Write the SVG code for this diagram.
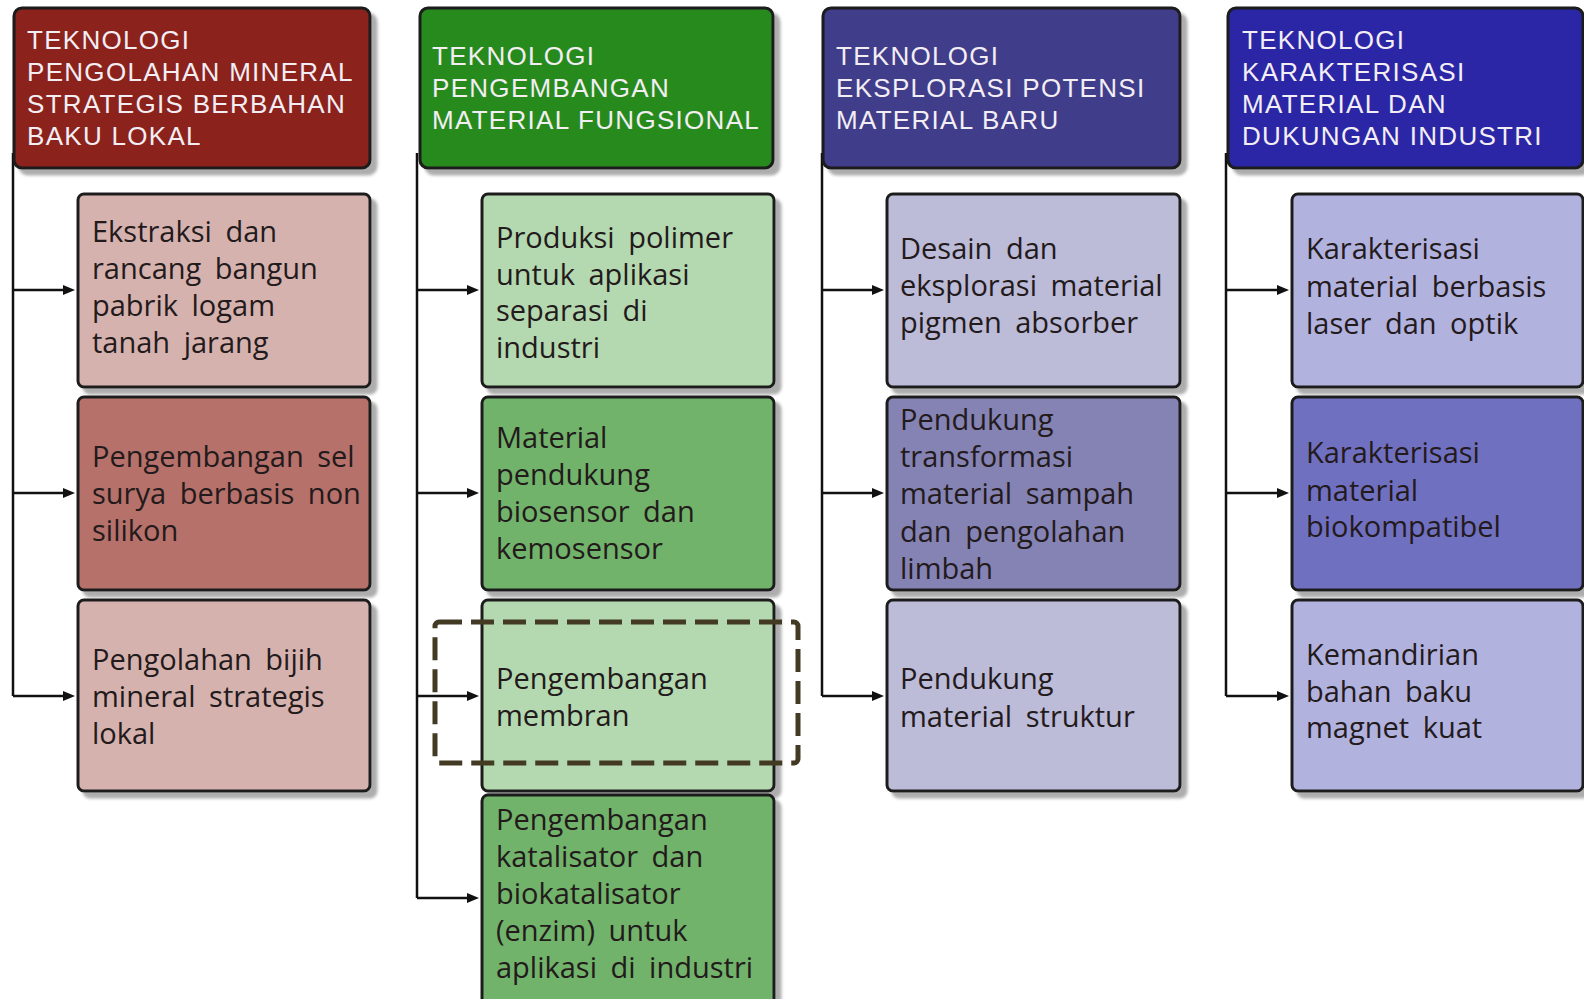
<svg xmlns="http://www.w3.org/2000/svg" width="1584" height="999" viewBox="0 0 1584 999">
<defs>
<filter id="sh" x="-5%" y="-5%" width="115%" height="115%">
<feDropShadow dx="6" dy="6" stdDeviation="1.5" flood-color="#8a8a8a" flood-opacity="0.7"/>
</filter>
<marker id="ah" markerWidth="12" markerHeight="10" refX="4" refY="5" orient="auto" markerUnits="userSpaceOnUse">
<path d="M0,0 L12,5 L0,10 z" fill="#111"/>
</marker>
<style>
.hd{stroke:#1a1a1a;stroke-width:3;filter:url(#sh)}
.bx{stroke:#1e1e1e;stroke-width:3;filter:url(#sh)}
.h{font-family:"Liberation Sans",Arial,sans-serif;font-size:26px;letter-spacing:1.3px;fill:#f3eef4}
.t{font-family:"Open Sans","Liberation Sans",sans-serif;font-size:29px;word-spacing:6px;fill:#231a1c}
.c{fill:none;stroke:#111;stroke-width:2.5}
.ar{fill:none;stroke:#111;stroke-width:2.5;marker-end:url(#ah)}
.r1{fill:#8b231d}.r2{fill:#d6b2ae}.r3{fill:#b5716a}
.g1{fill:#278b1d}.g2{fill:#b4d8af}.g3{fill:#71b36a}
.p1{fill:#403e8a}.p2{fill:#bcbbd8}.p3{fill:#8483b4}
.b1{fill:#2a28a5}.b2{fill:#b2b2df}.b3{fill:#6f6fc1}
</style>
</defs>
<rect width="1584" height="999" fill="#ffffff"/>

<g id="connectors">
<path class="c" d="M13,153 V696"/>
<path class="ar" d="M13,290 H67"/>
<path class="ar" d="M13,493 H67"/>
<path class="ar" d="M13,696 H67"/>
<path class="c" d="M417,153 V898"/>
<path class="ar" d="M417,290 H471"/>
<path class="ar" d="M417,493 H471"/>
<path class="ar" d="M417,696 H471"/>
<path class="ar" d="M417,898 H471"/>
<path class="c" d="M822,153 V696"/>
<path class="ar" d="M822,290 H876"/>
<path class="ar" d="M822,493 H876"/>
<path class="ar" d="M822,696 H876"/>
<path class="c" d="M1226,153 V696"/>
<path class="ar" d="M1226,290 H1281"/>
<path class="ar" d="M1226,493 H1281"/>
<path class="ar" d="M1226,696 H1281"/>
</g>

<g id="h1">
<rect class="hd r1" x="14" y="8" width="356" height="160" rx="8"/>
<text class="h"><tspan x="27" y="49">TEKNOLOGI</tspan><tspan x="27" y="81">PENGOLAHAN MINERAL</tspan><tspan x="27" y="113">STRATEGIS BERBAHAN</tspan><tspan x="27" y="145">BAKU LOKAL</tspan></text>
</g>
<g id="n1a">
<rect class="bx r2" x="78" y="194" width="292" height="193" rx="6"/>
<text class="t"><tspan x="92" y="242">Ekstraksi dan</tspan><tspan x="92" y="279">rancang bangun</tspan><tspan x="92" y="316">pabrik logam</tspan><tspan x="92" y="353">tanah jarang</tspan></text>
</g>
<g id="n1b">
<rect class="bx r3" x="78" y="397" width="292" height="193" rx="6"/>
<text class="t"><tspan x="92" y="467">Pengembangan sel</tspan><tspan x="92" y="504">surya berbasis non</tspan><tspan x="92" y="541">silikon</tspan></text>
</g>
<g id="n1c">
<rect class="bx r2" x="78" y="600" width="292" height="191" rx="6"/>
<text class="t"><tspan x="92" y="670">Pengolahan bijih</tspan><tspan x="92" y="707">mineral strategis</tspan><tspan x="92" y="744">lokal</tspan></text>
</g>

<g id="h2">
<rect class="hd g1" x="420" y="8" width="353" height="160" rx="8"/>
<text class="h"><tspan x="432" y="65">TEKNOLOGI</tspan><tspan x="432" y="97">PENGEMBANGAN</tspan><tspan x="432" y="129">MATERIAL FUNGSIONAL</tspan></text>
</g>
<g id="n2a">
<rect class="bx g2" x="482" y="194" width="292" height="193" rx="6"/>
<text class="t"><tspan x="496" y="248">Produksi polimer</tspan><tspan x="496" y="285">untuk aplikasi</tspan><tspan x="496" y="321">separasi di</tspan><tspan x="496" y="358">industri</tspan></text>
</g>
<g id="n2b">
<rect class="bx g3" x="482" y="397" width="292" height="193" rx="6"/>
<text class="t"><tspan x="496" y="448">Material</tspan><tspan x="496" y="485">pendukung</tspan><tspan x="496" y="522">biosensor dan</tspan><tspan x="496" y="559">kemosensor</tspan></text>
</g>
<g id="n2c">
<rect class="bx g2" x="482" y="600" width="292" height="191" rx="6"/>
<text class="t"><tspan x="496" y="689">Pengembangan</tspan><tspan x="496" y="726">membran</tspan></text>
</g>
<g id="n2d">
<rect class="bx g3" x="482" y="795" width="292" height="225" rx="6"/>
<text class="t"><tspan x="496" y="830">Pengembangan</tspan><tspan x="496" y="867">katalisator dan</tspan><tspan x="496" y="904">biokatalisator</tspan><tspan x="496" y="941">(enzim) untuk</tspan><tspan x="496" y="978">aplikasi di industri</tspan></text>
</g>
<g id="highlight">
<rect x="435" y="622" width="363" height="141" rx="4" fill="none" stroke="#433a24" stroke-width="5" stroke-dasharray="23 9"/>
</g>

<g id="h3">
<rect class="hd p1" x="823" y="8" width="357" height="160" rx="8"/>
<text class="h"><tspan x="836" y="65">TEKNOLOGI</tspan><tspan x="836" y="97">EKSPLORASI POTENSI</tspan><tspan x="836" y="129">MATERIAL BARU</tspan></text>
</g>
<g id="n3a">
<rect class="bx p2" x="887" y="194" width="293" height="193" rx="6"/>
<text class="t"><tspan x="900" y="259">Desain dan</tspan><tspan x="900" y="296">eksplorasi material</tspan><tspan x="900" y="333">pigmen absorber</tspan></text>
</g>
<g id="n3b">
<rect class="bx p3" x="887" y="397" width="293" height="193" rx="6"/>
<text class="t"><tspan x="900" y="430">Pendukung</tspan><tspan x="900" y="467">transformasi</tspan><tspan x="900" y="504">material sampah</tspan><tspan x="900" y="542">dan pengolahan</tspan><tspan x="900" y="579">limbah</tspan></text>
</g>
<g id="n3c">
<rect class="bx p2" x="887" y="600" width="293" height="191" rx="6"/>
<text class="t"><tspan x="900" y="689">Pendukung</tspan><tspan x="900" y="727">material struktur</tspan></text>
</g>

<g id="h4">
<rect class="hd b1" x="1228" y="8" width="355" height="160" rx="8"/>
<text class="h"><tspan x="1242" y="49">TEKNOLOGI</tspan><tspan x="1242" y="81">KARAKTERISASI</tspan><tspan x="1242" y="113">MATERIAL DAN</tspan><tspan x="1242" y="145">DUKUNGAN INDUSTRI</tspan></text>
</g>
<g id="n4a">
<rect class="bx b2" x="1292" y="194" width="291" height="193" rx="6"/>
<text class="t"><tspan x="1306" y="259">Karakterisasi</tspan><tspan x="1306" y="297">material berbasis</tspan><tspan x="1306" y="334">laser dan optik</tspan></text>
</g>
<g id="n4b">
<rect class="bx b3" x="1292" y="397" width="291" height="193" rx="6"/>
<text class="t"><tspan x="1306" y="463">Karakterisasi</tspan><tspan x="1306" y="501">material</tspan><tspan x="1306" y="537">biokompatibel</tspan></text>
</g>
<g id="n4c">
<rect class="bx b2" x="1292" y="600" width="291" height="191" rx="6"/>
<text class="t"><tspan x="1306" y="665">Kemandirian</tspan><tspan x="1306" y="702">bahan baku</tspan><tspan x="1306" y="738">magnet kuat</tspan></text>
</g>
</svg>
